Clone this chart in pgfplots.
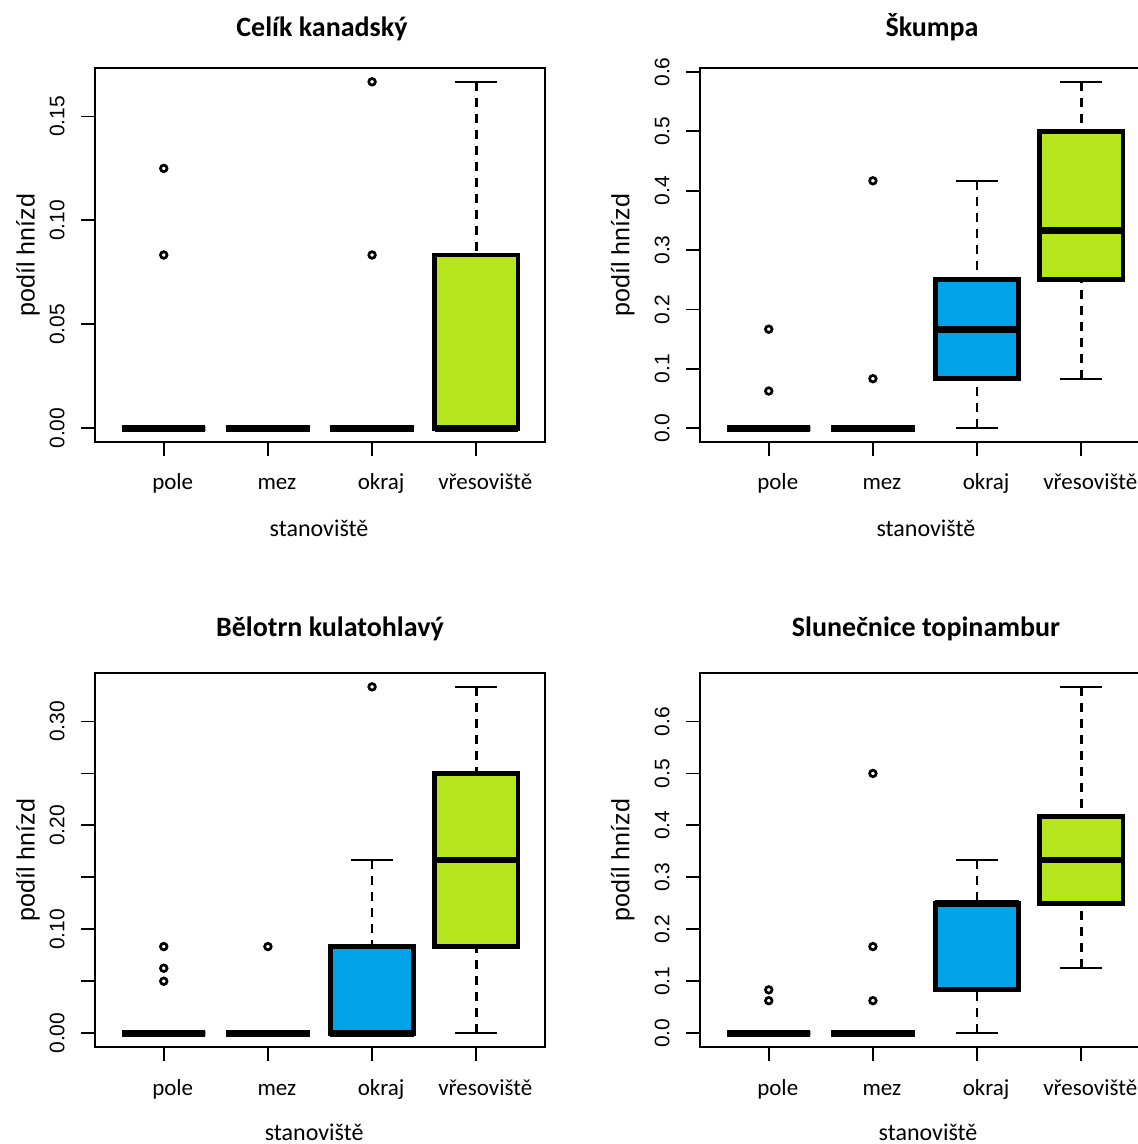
\documentclass[border=0pt]{standalone}
\usepackage{fontspec}
\setmainfont{Liberation Sans}
\newfontfamily\calibri{Carlito}
\usepackage{pgfplots}
\pgfplotsset{compat=1.18}

\definecolor{heath}{RGB}{181,230,29}
\definecolor{edge}{RGB}{0,162,232}

\pgfplotsset{
  habitat/.style={
    scale only axis, width=225pt, height=187pt,
    anchor=south west,
    xmin=0.34, xmax=4.66,
    xtick={1,2,3,4}, xticklabels={pole,mez,okraj,vřesoviště},
    tick align=outside, tick pos=left,
    major tick length=7pt,
    every tick/.style={black, line width=0.9pt},
    axis line style={line width=0.9pt},
    xticklabel style={font=\calibri\fontsize{11.5}{13}\selectfont, anchor=base, inner sep=0pt, xshift=4.5pt},
    xticklabel shift=17pt,
    yticklabel style={font=\fontsize{10.5}{12}\selectfont, rotate=90, anchor=south, inner sep=0pt},
    yticklabel shift=8pt,
    xlabel={stanoviště}, ylabel={podíl hnízd},
    xlabel style={font=\calibri\fontsize{12}{14}\selectfont, anchor=base},
    ylabel style={font=\fontsize{12.5}{14}\selectfont, anchor=base},
    title style={font=\calibri\bfseries\fontsize{14}{16}\selectfont, anchor=base, yshift=-6pt},
  },
  rwhisk/.style={black, mark=none, line width=1.35pt, dash pattern=on 4.5pt off 3.5pt},
  rcap/.style={black, mark=none, solid, line width=1pt},
  rboxs/.style={draw=black, mark=none, solid, line width=2.4pt, line join=miter},
  rmed/.style={black, mark=none, solid, line width=3.4pt},
  rout/.style={only marks, mark=o, mark size=1.65pt,
    mark options={solid, draw=black, line width=1.35pt}},
}

% \rbox{position}{lower whisker}{lower quartile}{median}{upper quartile}{upper whisker}{fill}
% box is 0.8 wide, staples 0.4 wide
\newcommand\rbox[7]{%
  \pgfmathsetmacro\boxL{#1-0.4}\pgfmathsetmacro\boxR{#1+0.4}%
  \pgfmathsetmacro\capL{#1-0.2}\pgfmathsetmacro\capR{#1+0.2}%
  \edef\rboxdraw{%
    \noexpand\addplot[rwhisk] coordinates {(#1,#2) (#1,#3)};
    \noexpand\addplot[rwhisk] coordinates {(#1,#6) (#1,#5)};
    \noexpand\addplot[rcap] coordinates {(\capL,#2) (\capR,#2)};
    \noexpand\addplot[rcap] coordinates {(\capL,#6) (\capR,#6)};
    \noexpand\addplot[rboxs, fill=#7] coordinates {(\boxL,#3) (\boxR,#3) (\boxR,#5) (\boxL,#5)} -- cycle;
    \noexpand\addplot[rmed] coordinates {(\boxL,#4) (\boxR,#4)};
  }\rboxdraw
}

\begin{document}
\begin{tikzpicture}

% ---- Celík kanadský ----
\begin{axis}[habitat, at={(47.5pt,351pt)},
  ymin=-0.006667, ymax=0.173333,
  ytick={0,0.05,0.1,0.15}, yticklabels={0.00,0.05,0.10,0.15},
  title={Celík kanadský},
  title style={at={(axis description cs:0.5044,1.0829)}},
  xlabel style={at={(axis description cs:0.4978,-0.254)}},
  ylabel style={at={(axis description cs:-0.1344,0.5)}}]
\rbox{1}{0}{0}{0}{0}{0}{white}
\rbox{2}{0}{0}{0}{0}{0}{white}
\rbox{3}{0}{0}{0}{0}{0}{white}
\rbox{4}{0}{0}{0}{0.08333}{0.16667}{heath}
\addplot[rout] coordinates {(1,0.125) (1,0.08333) (3,0.16667) (3,0.08333)};
\end{axis}

% ---- Škumpa ----
\begin{axis}[habitat, at={(350pt,351pt)},
  ymin=-0.023333, ymax=0.606667,
  ytick={0,0.1,0.2,0.3,0.4,0.5,0.6}, yticklabels={0.0,0.1,0.2,0.3,0.4,0.5,0.6},
  title={Škumpa},
  title style={at={(axis description cs:0.5156,1.0829)}},
  xlabel style={at={(axis description cs:0.502,-0.254)}},
  ylabel style={at={(axis description cs:-0.1567,0.5)}}]
\rbox{1}{0}{0}{0}{0}{0}{white}
\rbox{2}{0}{0}{0}{0}{0}{white}
\rbox{3}{0}{0.08333}{0.16667}{0.25}{0.41667}{edge}
\rbox{4}{0.08333}{0.25}{0.33333}{0.5}{0.58333}{heath}
\addplot[rout] coordinates {(1,0.16667) (1,0.0625) (2,0.41667) (2,0.08333)};
\end{axis}

% ---- Bělotrn kulatohlavý ----
\begin{axis}[habitat, at={(47.5pt,48.5pt)},
  ymin=-0.013333, ymax=0.346667,
  ytick={0,0.05,0.1,0.15,0.2,0.25,0.3}, yticklabels={0.00,,0.10,,0.20,,0.30},
  title={Bělotrn kulatohlavý},
  title style={at={(axis description cs:0.5222,1.0963)}},
  xlabel style={at={(axis description cs:0.487,-0.249)}},
  ylabel style={at={(axis description cs:-0.1344,0.5)}}]
\rbox{1}{0}{0}{0}{0}{0}{white}
\rbox{2}{0}{0}{0}{0}{0}{white}
\rbox{3}{0}{0}{0}{0.08333}{0.16667}{edge}
\rbox{4}{0}{0.08333}{0.16667}{0.25}{0.33333}{heath}
\addplot[rout] coordinates {(1,0.08333) (1,0.0625) (1,0.05) (2,0.08333) (3,0.33333)};
\end{axis}

% ---- Slunečnice topinambur ----
\begin{axis}[habitat, at={(350pt,48.5pt)},
  ymin=-0.026667, ymax=0.693333,
  ytick={0,0.1,0.2,0.3,0.4,0.5,0.6}, yticklabels={0.0,0.1,0.2,0.3,0.4,0.5,0.6},
  title={Slunečnice topinambur},
  title style={at={(axis description cs:0.5022,1.0963)}},
  xlabel style={at={(axis description cs:0.5067,-0.249)}},
  ylabel style={at={(axis description cs:-0.1567,0.5)}}]
\rbox{1}{0}{0}{0}{0}{0}{white}
\rbox{2}{0}{0}{0}{0}{0}{white}
\rbox{3}{0}{0.08333}{0.25}{0.25}{0.33333}{edge}
\rbox{4}{0.125}{0.25}{0.33333}{0.41667}{0.66667}{heath}
\addplot[rout] coordinates {(1,0.08333) (1,0.0625) (2,0.5) (2,0.16667) (2,0.0625)};
\end{axis}

% the page keeps to the 569pt x 572pt sheet
\pgfresetboundingbox
\path[use as bounding box] (0pt,0pt) rectangle (569pt,572pt);
\end{tikzpicture}
\end{document}
